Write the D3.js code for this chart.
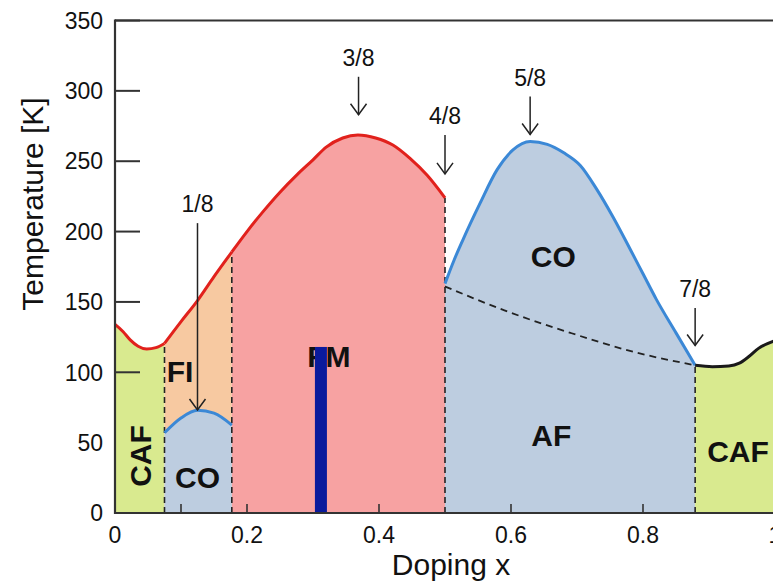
<!DOCTYPE html>
<html><head><meta charset="utf-8">
<script src="https://cdn.jsdelivr.net/npm/d3@7"></script>
<style>
body{margin:0;background:#fff}
svg{display:block}
text{font-family:"Liberation Sans",Arial,sans-serif;fill:#111}
</style>
</head><body>
<svg id="chart" width="773" height="585"></svg>
<script>
// ---- data ----
const xTickMarks = [0.1, 0.2, 0.4, 0.6, 0.8];
const xTickLabels = [0, 0.2, 0.4, 0.6, 0.8, 1];
const yTickLabels = [0, 50, 100, 150, 200, 250, 300, 350];
const yTickMarks = [100, 150, 200, 250, 300, 350];

// phase boundaries [doping x, T (K)]
const cafLeftCurve = [[0,134],[0.012,129],[0.023,123],[0.035,118.5],[0.048,116.5],[0.062,117.5],[0.075,120.5]];
const fiCurve = [[0.075,120.5],[0.1,136],[0.125,151],[0.15,168],[0.177,185.5]];
const fmCurve = [[0.177,185.5],[0.2,200],[0.224,214],[0.25,228],[0.276,240.5],[0.3,251],[0.32,260],[0.345,266.5],[0.368,268.6],[0.395,266.5],[0.421,261.5],[0.447,252],[0.473,240],[0.5,224]];
const coDomeCurve = [[0.075,57],[0.1,67.5],[0.125,73],[0.15,71],[0.177,62.5]];
const coUpperCurve = [[0.5,163],[0.514,180],[0.527,194],[0.553,220],[0.579,244],[0.603,258],[0.629,264],[0.655,262],[0.68,256],[0.705,247],[0.73,230],[0.755,210],[0.78,188],[0.8,170],[0.82,152],[0.85,128],[0.879,105]];
const afCurve = [[0.5,161],[0.59,144],[0.69,128],[0.79,114],[0.879,105]];
const cafRightCurve = [[0.879,105],[0.905,104],[0.93,104.5],[0.946,106.5],[0.96,111],[0.975,117],[0.997,122],[1.0,122.5]];
const phaseBorders = [[0.075,120.5],[0.177,185.5],[0.5,224],[0.879,105]];
const sampleBar = {x: 0.312, T: 118};

const regionNames = ["CAF","FI","CO","FM","CO","AF","CAF"];
const regionX = [0.0386, 0.0985, 0.125, 0.324, 0.664, 0.661, 0.944];
const regionT = [40.5, 101, 25.6, 111.6, 182.7, 55.4, 44];

const fracLabels = ["1/8","3/8","4/8","5/8","7/8"];
const fracX = [0.125, 0.369, 0.5, 0.629, 0.879];
const fracTipT = [73.2, 283, 241, 269, 119];
const fracTailT = [206, 310, 268.6, 296, 145.7];

// ---- drawing ----
const svg = d3.select("#chart");
const x = d3.scaleLinear().domain([0,1]).range([115,775]);
const y = d3.scaleLinear().domain([0,350]).range([513,20.5]);

const C = {green:"#d9ea8f", peach:"#f7c9a1", salmon:"#f7a2a2", blue:"#bdcde0",
           red:"#e1211c", bline:"#3b88d6", bar:"#0a1a9c", axis:"#333"};

const area = d3.area().x(d=>x(d[0])).y0(y(0)).y1(d=>y(d[1])).curve(d3.curveMonotoneX);
const line = d3.line().x(d=>x(d[0])).y(d=>y(d[1])).curve(d3.curveMonotoneX);

svg.append("path").attr("d", area(cafLeftCurve)).attr("fill", C.green);
svg.append("path").attr("d", area(fiCurve)).attr("fill", C.peach);
svg.append("path").attr("d", area(fmCurve)).attr("fill", C.salmon);
svg.append("path").attr("d", area(coDomeCurve)).attr("fill", C.blue);
svg.append("path").attr("d", area(coUpperCurve)).attr("fill", C.blue);
svg.append("path").attr("d", area(cafRightCurve)).attr("fill", C.green);

// dashed phase borders
svg.selectAll(".border").data(phaseBorders).enter().append("line")
  .attr("x1", d=>x(d[0])).attr("x2", d=>x(d[0]))
  .attr("y1", y(0)).attr("y2", d=>y(d[1]))
  .attr("stroke","#222").attr("stroke-width",1.6).attr("stroke-dasharray","6,4");
svg.append("path").attr("d", line(afCurve)).attr("fill","none")
  .attr("stroke","#222").attr("stroke-width",1.8).attr("stroke-dasharray","7,5");

// boundary lines
svg.append("path").attr("d", line(cafLeftCurve)).attr("fill","none").attr("stroke",C.red).attr("stroke-width",3);
svg.append("path").attr("d", line(fiCurve)).attr("fill","none").attr("stroke",C.red).attr("stroke-width",3);
svg.append("path").attr("d", line(fmCurve)).attr("fill","none").attr("stroke",C.red).attr("stroke-width",3);
svg.append("path").attr("d", line(coDomeCurve)).attr("fill","none").attr("stroke",C.bline).attr("stroke-width",3);
svg.append("path").attr("d", line(coUpperCurve)).attr("fill","none").attr("stroke",C.bline).attr("stroke-width",3);
svg.append("path").attr("d", line(cafRightCurve)).attr("fill","none").attr("stroke","#1a1a1a").attr("stroke-width",3);

// ticks (inside)
svg.selectAll(".yt").data(yTickMarks).enter().append("line")
  .attr("x1", x(0)).attr("x2", x(0)+25).attr("y1", d=>y(d)).attr("y2", d=>y(d))
  .attr("stroke", C.axis).attr("stroke-width", 2);
svg.selectAll(".xt").data(xTickMarks).enter().append("line")
  .attr("x1", d=>x(d)).attr("x2", d=>x(d)).attr("y1", y(0)).attr("y2", y(0)-9)
  .attr("stroke", C.axis).attr("stroke-width", 1.6);

// region labels
regionNames.forEach((t,i)=>{
  const tx = svg.append("text").text(t).attr("font-size",30).attr("font-weight","bold")
    .attr("text-anchor","middle").attr("dy","0.36em");
  if (i===0) tx.attr("transform",`translate(${x(regionX[i])},${y(regionT[i])}) rotate(-90)`);
  else tx.attr("x", x(regionX[i])).attr("y", y(regionT[i]));
});

// sample bar
svg.append("rect").attr("x", x(sampleBar.x)-6).attr("width",12)
  .attr("y", y(sampleBar.T)).attr("height", y(0)-y(sampleBar.T)).attr("fill", C.bar);

// arrows
fracLabels.forEach((t,i)=>{
  const ax = x(fracX[i]), tip = y(fracTipT[i]), tail = y(fracTailT[i]);
  svg.append("line").attr("x1",ax).attr("x2",ax).attr("y1",tail).attr("y2",tip)
    .attr("stroke","#222").attr("stroke-width",1.5);
  svg.append("path").attr("d",`M${ax-8},${tip-11}L${ax},${tip}L${ax+8},${tip-11}`)
    .attr("fill","none").attr("stroke","#222").attr("stroke-width",1.5);
  svg.append("text").text(t).attr("x",ax).attr("y",tail-19).attr("dy","0.36em")
    .attr("text-anchor","middle").attr("font-size",23);
});

// axes frame
svg.append("line").attr("x1",x(0)).attr("x2",773).attr("y1",y(350)).attr("y2",y(350)).attr("stroke",C.axis).attr("stroke-width",2.2);
svg.append("line").attr("x1",x(0)).attr("x2",773).attr("y1",y(0)).attr("y2",y(0)).attr("stroke",C.axis).attr("stroke-width",2.2);
svg.append("line").attr("x1",x(0)).attr("x2",x(0)).attr("y1",y(0)+1).attr("y2",y(350)-1).attr("stroke",C.axis).attr("stroke-width",2.2);

// tick labels
svg.selectAll(".yl").data(yTickLabels).enter().append("text")
  .text(d=>d).attr("x", 103).attr("y", d=>y(d)).attr("dy","0.36em")
  .attr("text-anchor","end").attr("font-size",23);
svg.selectAll(".xl").data(xTickLabels).enter().append("text")
  .text(d=>d).attr("x", d=>x(d)).attr("y", 543)
  .attr("text-anchor","middle").attr("font-size",23);

// axis titles
svg.append("text").text("Doping x").attr("x",451).attr("y",575)
  .attr("text-anchor","middle").attr("font-size",30);
svg.append("text").text("Temperature [K]").attr("transform","translate(32.5,204) rotate(-90)")
  .attr("dy","0.36em").attr("text-anchor","middle").attr("font-size",30);
</script>
</body></html>
